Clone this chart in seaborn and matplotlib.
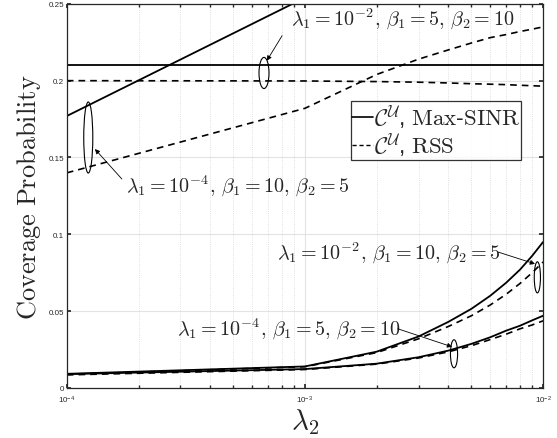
import numpy as np
import pandas as pd
import matplotlib
matplotlib.use("Agg")
import matplotlib.pyplot as plt
import seaborn as sns
from matplotlib.lines import Line2D
from matplotlib.patches import Ellipse
from matplotlib.ticker import FixedLocator, FixedFormatter

sns.set_theme(style="ticks")
plt.rcParams["font.family"] = ["Liberation Sans", "DejaVu Sans"]
plt.rcParams["mathtext.fontset"] = "cm"

# λ2 sample points
lam2 = [1e-4, 1e-3, 2e-3, 3e-3, 4e-3, 5e-3, 6e-3, 7e-3, 8e-3, 9e-3, 1e-2]

# λ1 = 1e-4, β1 = 10, β2 = 5
maxsinr_a = [0.177, 0.254, 0.277, 0.291, 0.300, 0.308, 0.314, 0.319, 0.324, 0.328, 0.331]
rss_a = [0.140, 0.182, 0.204, 0.214, 0.220, 0.2245, 0.228, 0.230, 0.232, 0.2335, 0.235]
# λ1 = 1e-2, β1 = 5, β2 = 10
maxsinr_b = [0.210, 0.210, 0.210, 0.210, 0.210, 0.210, 0.210, 0.210, 0.210, 0.210, 0.210]
rss_b = [0.200, 0.1998, 0.1994, 0.199, 0.1985, 0.198, 0.1977, 0.1974, 0.197, 0.1967, 0.1964]
# λ1 = 1e-2, β1 = 10, β2 = 5
maxsinr_c = [0.0092, 0.014, 0.0236, 0.0335, 0.043, 0.0515, 0.060, 0.0685, 0.077, 0.086, 0.095]
rss_c = [0.0088, 0.0138, 0.023, 0.032, 0.040, 0.047, 0.054, 0.061, 0.068, 0.075, 0.082]
# λ1 = 1e-4, β1 = 5, β2 = 10
maxsinr_d = [0.0090, 0.0123, 0.0158, 0.020, 0.0243, 0.0287, 0.033, 0.0373, 0.0405, 0.044, 0.047]
rss_d = [0.0085, 0.012, 0.0155, 0.0195, 0.0235, 0.0275, 0.0315, 0.035, 0.0385, 0.041, 0.0437]

yticks = [0, 0.05, 0.1, 0.15, 0.2, 0.25]
ytick_labels = ["0", "0.05", "0.1", "0.15", "0.2", "0.25"]

fig = plt.figure(figsize=(5.57, 4.39), dpi=100)
ax = fig.add_axes([0.120, 0.114, 0.855, 0.875])

solid = [maxsinr_a, maxsinr_b, maxsinr_c, maxsinr_d]
dashed = [rss_a, rss_b, rss_c, rss_d]
for s in solid:
    sns.lineplot(x=lam2, y=s, color="black", lw=1.3, ax=ax)
for s in dashed:
    sns.lineplot(x=lam2, y=s, color="black", lw=1.2, ax=ax)
    ax.lines[-1].set_dashes((4, 3))

ax.set_xscale("log")
ax.set_xlim(1e-4, 1e-2)
ax.set_ylim(0, 0.25)
ax.yaxis.set_major_locator(FixedLocator(yticks))
ax.yaxis.set_major_formatter(FixedFormatter(ytick_labels))

# grid like MATLAB
ax.grid(True, which="major", axis="both", color="#e3e3e3", lw=0.8, ls="-")
ax.grid(True, which="minor", axis="x", color="#d5d5d5", lw=0.6, ls=":")
ax.set_axisbelow(True)
ax.tick_params(which="both", direction="in", top=True, right=True,
               labelsize=5.8, colors="#262626", pad=2)
ax.tick_params(axis="x", which="major", pad=4)
ax.tick_params(which="major", length=3)
ax.tick_params(which="minor", length=2)
for sp in ax.spines.values():
    sp.set_color("#262626")
    sp.set_linewidth(0.9)

ax.set_ylabel(r"$\mathrm{Coverage\ Probability}$", fontsize=19, labelpad=4)
ax.set_xlabel(r"$\lambda_2$", fontsize=21, labelpad=1)

# legend
handles = [Line2D([], [], color="black", lw=1.2),
           Line2D([], [], color="black", lw=1.0, dashes=(3, 2))]
labels = [r"$\mathcal{C}^{\mathcal{U}}$, $\mathrm{Max}$-$\mathrm{SINR}$",
          r"$\mathcal{C}^{\mathcal{U}}$, $\mathrm{RSS}$"]
leg = ax.legend(handles, labels, loc="upper right", bbox_to_anchor=(0.954, 0.747),
                fontsize=16.5, handlelength=0.9, handletextpad=0.05, borderpad=0.05,
                borderaxespad=0, labelspacing=0.0, frameon=True, fancybox=False)
leg.get_frame().set_edgecolor("black")
leg.get_frame().set_linewidth(0.9)

# ellipses around curve groups (axes fraction)
ellipses = [(0.414, 0.820, 0.021, 0.081), (0.045, 0.652, 0.019, 0.185),
            (0.988, 0.288, 0.013, 0.081), (0.813, 0.089, 0.015, 0.073)]
for cx, cy, w, h in ellipses:
    ax.add_patch(Ellipse((cx, cy), w, h, transform=ax.transAxes, fill=False,
                         edgecolor="black", lw=0.8, clip_on=False))

# labels + arrows
txt_kw = dict(transform=ax.transAxes, fontsize=14.5, va="center", ha="left")
ax.text(0.471, 0.961, r"$\lambda_1 = 10^{-2},\,\beta_1 = 5,\,\beta_2 = 10$", **txt_kw)
ax.text(0.124, 0.526, r"$\lambda_1 = 10^{-4},\,\beta_1 = 10,\,\beta_2 = 5$", **txt_kw)
ax.text(0.441, 0.354, r"$\lambda_1 = 10^{-2},\,\beta_1 = 10,\,\beta_2 = 5$", **txt_kw)
ax.text(0.231, 0.154, r"$\lambda_1 = 10^{-4},\,\beta_1 = 5,\,\beta_2 = 10$", **txt_kw)

arrows = [((0.452, 0.917), (0.420, 0.852)),
          ((0.1155, 0.544), (0.059, 0.622)),
          ((0.905, 0.354), (0.983, 0.323)),
          ((0.695, 0.154), (0.809, 0.107))]
for start, tip in arrows:
    ax.annotate("", xy=tip, xytext=start, xycoords="axes fraction",
                textcoords="axes fraction",
                arrowprops=dict(arrowstyle="-|>", color="black", lw=0.6,
                                mutation_scale=7, shrinkA=0, shrinkB=0))

fig.savefig("out.png", dpi=100)
